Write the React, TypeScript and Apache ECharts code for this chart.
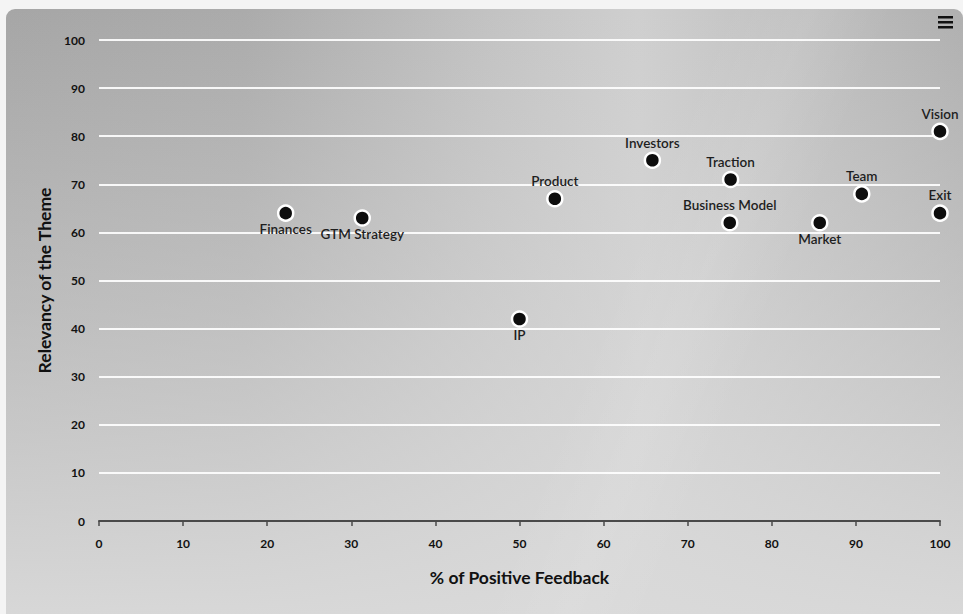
import React, { useEffect, useRef } from "react";
import * as echarts from "echarts";

const themes = ["Finances", "GTM Strategy", "IP", "Product", "Investors", "Traction", "Business Model", "Market", "Team", "Vision", "Exit"];
const positiveFeedback = [22.2, 31.3, 50, 54.2, 65.8, 75.1, 75, 85.7, 90.7, 100, 100];
const relevancy = [64, 63, 42, 67, 75, 71, 62, 62, 68, 81, 64];
const labelSides = ["bottom", "bottom", "bottom", "top", "top", "top", "top", "bottom", "top", "top", "top"];

const xAxisName = "% of Positive Feedback";
const yAxisName = "Relevancy of the Theme";

export default function App() {
  const ref = useRef<HTMLDivElement>(null);
  useEffect(() => {
    if (!ref.current) return;
    const chart = echarts.init(ref.current, null, { renderer: "svg" });
    const font = "Lato, 'Noto Sans', sans-serif";
    chart.setOption({
      animation: false,
      backgroundColor: "transparent",
      grid: { left: 93, right: 23, top: 31, bottom: 93 },
      xAxis: {
        type: "value",
        min: 0,
        max: 100,
        interval: 10,
        name: xAxisName,
        nameLocation: "middle",
        nameGap: 47,
        nameTextStyle: { fontFamily: font, fontSize: 17.5, fontWeight: "bold", color: "#111" },
        axisLine: { show: true, onZero: false, lineStyle: { color: "#4a4a4a", width: 2 } },
        axisTick: { show: true, length: 5, lineStyle: { color: "#4a4a4a", width: 1.5 } },
        axisLabel: { fontFamily: font, fontSize: 12, fontWeight: "bold", color: "#111", margin: 16 },
        splitLine: { show: false },
      },
      yAxis: {
        type: "value",
        min: 0,
        max: 100,
        interval: 10,
        name: yAxisName,
        nameLocation: "middle",
        nameGap: 40,
        nameTextStyle: { fontFamily: font, fontSize: 17.5, fontWeight: "bold", color: "#111" },
        axisLine: { show: false },
        axisTick: { show: false },
        axisLabel: { fontFamily: font, fontSize: 12, fontWeight: "bold", color: "#111", margin: 14 },
        splitLine: { show: true, lineStyle: { color: "rgba(255,255,255,0.9)", width: 2 } },
      },
      series: [
        {
          type: "scatter",
          symbolSize: 15,
          itemStyle: { color: "#0d0d0d", borderColor: "#fff", borderWidth: 2.5, opacity: 1 },
          data: themes.map((n, i) => ({
            name: n,
            value: [positiveFeedback[i], relevancy[i]],
            label: { position: labelSides[i], distance: labelSides[i] === "bottom" ? 0 : 2 },
          })),
          label: {
            show: true,
            formatter: "{b}",
            fontFamily: font,
            fontSize: 13.5,
            fontWeight: 600,
            color: "#1e1e1e",
          },
        },
      ],
      graphic: [
        { type: "rect", shape: { x: 932, y: 7, width: 15, height: 2.5 }, style: { fill: "#111" } },
        { type: "rect", shape: { x: 932, y: 12, width: 15, height: 2.5 }, style: { fill: "#111" } },
        { type: "rect", shape: { x: 932, y: 17, width: 15, height: 2.5 }, style: { fill: "#111" } },
      ],
    });
    return () => chart.dispose();
  }, []);

  return (
    <div style={{ position: "fixed", left: 0, top: 0, width: 963, height: 614, background: "#f4f4f4", overflow: "hidden" }}>
      <div
        style={{
          position: "absolute",
          left: 6,
          top: 9,
          width: 957,
          height: 605,
          borderRadius: "9px 9px 0 0",
          overflow: "hidden",
          background:
            "linear-gradient(112deg, rgba(255,255,255,0) 60%, rgba(255,255,255,0.08) 67%, rgba(255,255,255,0) 74%), linear-gradient(to bottom, rgba(218,218,218,0) 0%, rgba(218,218,218,0.45) 50%, rgba(218,218,218,0.95) 100%), linear-gradient(to right, #a6a6a6 0%, #ababab 25%, #c2c2c2 50%, #cfcfcf 66%, #c4c4c4 78%, #b0b0b0 100%)",
        }}
      >
        <div ref={ref} style={{ width: 957, height: 605 }} />
      </div>
    </div>
  );
}
